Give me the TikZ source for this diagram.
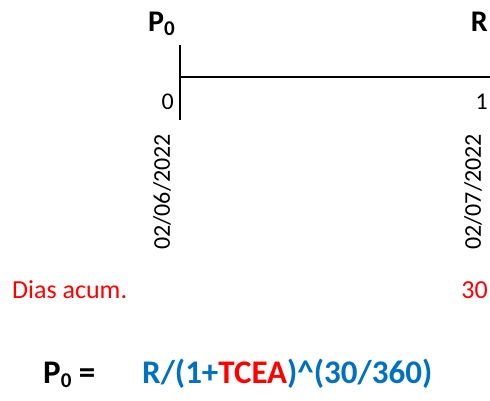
\documentclass[tikz,border=0pt]{standalone}
\usepackage{fontspec}
\setmainfont{Carlito}
\definecolor{xlblue}{HTML}{0070C0}
\definecolor{xlred}{HTML}{FF0000}
\newcommand\subzero[1]{\raisebox{-0.25ex}{\fontsize{21}{21}\selectfont #1}}
\begin{document}
\begin{tikzpicture}[x=1pt,y=-1pt,
  txt/.style={inner sep=0pt,font=\fontsize{24}{24}\selectfont},
  rtxt/.style={inner sep=0pt,font=\fontsize{26}{26}\selectfont,text=xlred},
  btxt/.style={inner sep=0pt,font=\fontsize{30}{30}\selectfont\bfseries},
  ftxt/.style={inner sep=0pt,font=\fontsize{33}{33}\selectfont\bfseries},
  axis/.style={line width=2.5pt,black}]
\useasboundingbox (0,0) rectangle (490,401);
% top labels
\node[btxt,anchor=base west] (p0top) at (148,32) {P\subzero{0}};
\node[btxt,anchor=base east] (rtop) at (488,32) {R};
% axis
\coordinate (vtop) at (180,45);
\coordinate (vbot) at (180,120);
\coordinate (hleft) at (180,77);
\coordinate (hright) at (490,77);
\draw[axis] (vtop) -- (vbot);
\draw[axis] (hleft) -- (hright);
% period numbers
\node[txt,anchor=base east] (n0) at (174,110) {0};
\node[txt,anchor=base east] (n1) at (488,110) {1};
% dates
\node[txt,rotate=90,anchor=west] (d0) at (162,250) {02/06/2022};
\node[txt,rotate=90,anchor=west] (d1) at (473,250) {02/07/2022};
% days
\node[rtxt,anchor=base west] (dias) at (12,298) {Dias acum.};
\node[rtxt,anchor=base east] (d30) at (488,298) {30};
% formula
\node[ftxt,anchor=base west] (p0f) at (43,383) {P\subzero{0} =};
\node[ftxt,anchor=base west,text=xlblue] (form) at (142,383) {R/(1+\textcolor{xlred}{TCEA})\^{}(30/360)};
\end{tikzpicture}
\end{document}
